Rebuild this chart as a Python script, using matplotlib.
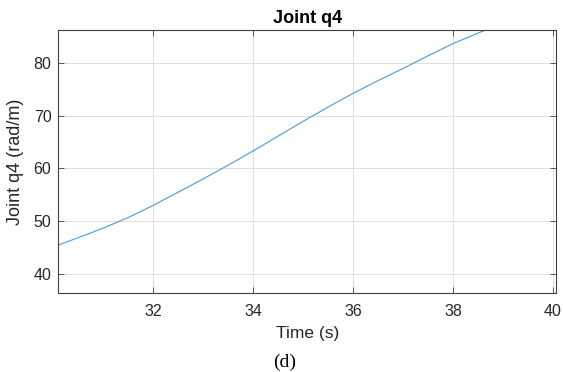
import matplotlib
matplotlib.use("Agg")
import matplotlib.pyplot as plt

t = [30.1, 30.5, 31.0, 31.5, 32.0, 32.5, 33.0, 33.5, 34.0, 34.5, 35.0, 35.5,
     36.0, 36.5, 37.0, 37.5, 38.0, 38.5, 39.0]
q4 = [45.5, 46.9, 48.7, 50.7, 53.0, 55.5, 58.0, 60.6, 63.3, 66.1, 68.9, 71.6,
      74.2, 76.6, 78.9, 81.3, 83.6, 85.6, 87.4]
xticks = [32, 34, 36, 38, 40]
yticks = [40, 50, 60, 70, 80]

plt.rcParams['font.family'] = ['Liberation Sans', 'DejaVu Sans']
fig = plt.figure(figsize=(5.63, 3.72), dpi=100)
ax = fig.add_axes([0.1036, 0.2116, 0.884, 0.7078])
ax.plot(t, q4, color='#4a9ad6', lw=0.8)
ax.set_xlim(30.106, 40.06)
ax.set_ylim(36.4, 86.18)
ax.set_xticks(xticks)
ax.set_yticks(yticks)
ax.grid(True, color='#dedede', lw=0.7)
ax.set_axisbelow(True)
for s in ax.spines.values():
    s.set_color('#404040')
    s.set_linewidth(0.8)
ax.tick_params(direction='in', top=True, right=True, length=4, width=0.6,
               colors='#404040', labelcolor='#262626', labelsize=11.5, pad=5)
ax.tick_params(axis='x', pad=8)
ax.set_title('Joint q4', fontsize=13, fontweight='bold', pad=5)
ax.set_xlabel('Time (s)', fontsize=12.5, color='#262626', labelpad=5)
ax.set_ylabel('Joint q4 (rad/m)', fontsize=13, color='#262626')
ax.yaxis.set_label_coords(-0.068, 0.5)
fig.text(0.506, 0.027, '(d)', family='Liberation Serif', fontsize=14,
         ha='center', va='center')
fig.savefig('out.png', dpi=100)
